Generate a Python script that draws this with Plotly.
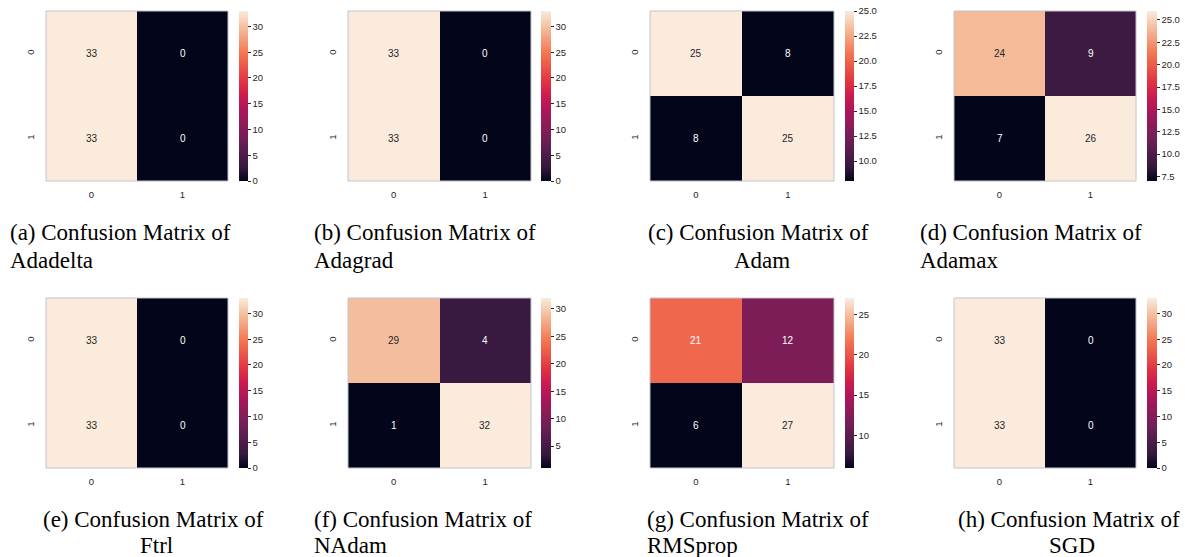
import plotly.graph_objects as go

W, H = 1185, 557

# ---------------- data ----------------
optimizers = ["Adadelta", "Adagrad", "Adam", "Adamax", "Ftrl", "NAdam", "RMSprop", "SGD"]
letters = ["a", "b", "c", "d", "e", "f", "g", "h"]
cm_adadelta = [[33, 0], [33, 0]]
cm_adagrad = [[33, 0], [33, 0]]
cm_adam = [[25, 8], [8, 25]]
cm_adamax = [[24, 9], [7, 26]]
cm_ftrl = [[33, 0], [33, 0]]
cm_nadam = [[29, 4], [1, 32]]
cm_rmsprop = [[21, 12], [6, 27]]
cm_sgd = [[33, 0], [33, 0]]
matrices = [cm_adadelta, cm_adagrad, cm_adam, cm_adamax, cm_ftrl, cm_nadam, cm_rmsprop, cm_sgd]
class_labels = ["0", "1"]
cbar_dtick = [5, 5, 2.5, 2.5, 5, 5, 5, 5]
cbar_format = ["d", "d", ".1f", ".1f", "d", "d", "d", "d"]
caption_centered = [False, False, True, False, True, False, False, True]

# ---------------- layout (pixels) ----------------
# heatmap left/right, colorbar left/right
cols = [
    (46, 228, 239, 248),
    (348, 531, 541, 551),
    (650, 834, 845, 854),
    (954, 1136, 1147, 1157),
]
rows = [(11, 181), (298, 468)]
caption_x = [8.5, 313, 647, 919, 41.5, 313, 646, 957]
caption_w = 230
caption_lines_y = [(233, 260), (519, 545)]

# seaborn "rocket" colormap approximation
rocket = [
    [0.0, "#03051a"],
    [0.083, "#35193e"],
    [0.25, "#701f57"],
    [0.417, "#ad1759"],
    [0.5, "#cb1b4f"],
    [0.583, "#e13342"],
    [0.75, "#f37651"],
    [0.9, "#f4bd9c"],
    [1.0, "#faebdd"],
]


def hex2rgb(h):
    h = h.lstrip("#")
    return [int(h[i:i + 2], 16) for i in (0, 2, 4)]


def cmap(t):
    t = min(max(t, 0.0), 1.0)
    for (t0, c0), (t1, c1) in zip(rocket[:-1], rocket[1:]):
        if t0 <= t <= t1:
            f = 0 if t1 == t0 else (t - t0) / (t1 - t0)
            a, b = hex2rgb(c0), hex2rgb(c1)
            return [a[k] + f * (b[k] - a[k]) for k in range(3)]
    return hex2rgb(rocket[-1][1])


def luminance(rgb):
    out = []
    for c in rgb:
        c = c / 255.0
        out.append(c / 12.92 if c <= 0.03928 else ((c + 0.055) / 1.055) ** 2.4)
    return 0.2126 * out[0] + 0.7152 * out[1] + 0.0722 * out[2]


fig = go.Figure()
layout = dict(
    width=W, height=H,
    margin=dict(l=0, r=0, t=0, b=0),
    paper_bgcolor="white",
    plot_bgcolor="white",
    showlegend=False,
    annotations=[], shapes=[],
)

tickfont = dict(family="Liberation Sans, Arial, sans-serif", size=9.5, color="#262626")
capfont = dict(family="Liberation Serif, Times New Roman, serif", size=23, color="black")

for i, (name, z) in enumerate(zip(optimizers, matrices)):
    r, c = divmod(i, 4)
    hx0, hx1, cx0, cx1 = cols[c]
    ytop, ybot = rows[r]
    n = i + 1
    xa = "x" if n == 1 else f"x{n}"
    ya = "y" if n == 1 else f"y{n}"
    zmin = min(min(row) for row in z)
    zmax = max(max(row) for row in z)
    fig.add_trace(go.Heatmap(
        z=z, x=[0, 1], y=[0, 1],
        xaxis=xa, yaxis=ya,
        zmin=zmin, zmax=zmax,
        colorscale=rocket,
        hoverinfo="skip",
        colorbar=dict(
            x=cx0 / W, xanchor="left", xpad=0,
            y=1 - ytop / H, yanchor="top", ypad=0,
            len=(ybot - ytop) / H, lenmode="fraction",
            thickness=cx1 - cx0, thicknessmode="pixels",
            outlinewidth=0,
            ticks="outside", ticklen=3, tickwidth=1, tickcolor="#262626",
            tickmode="linear", tick0=0, dtick=cbar_dtick[i],
            tickformat=cbar_format[i],
            tickfont=tickfont,
        ),
    ))
    layout[f"xaxis{'' if n == 1 else n}"] = dict(
        domain=[hx0 / W, hx1 / W], anchor=ya,
        range=[-0.5, 1.5], tickvals=[0, 1], ticktext=class_labels,
        showgrid=False, zeroline=False, showline=False, ticks="",
        ticklabelstandoff=6,
        tickfont=tickfont, fixedrange=True,
    )
    layout[f"yaxis{'' if n == 1 else n}"] = dict(
        domain=[1 - ybot / H, 1 - ytop / H], anchor=xa,
        range=[1.5, -0.5], tickvals=[0, 1], ticktext=class_labels,
        showgrid=False, zeroline=False, showline=False, ticks="",
        ticklabelstandoff=9,
        tickangle=-90, tickfont=tickfont, fixedrange=True,
    )
    # faint outer edge (anti-aliased border in the original)
    layout["shapes"].append(dict(
        type="rect", xref=f"{xa} domain", yref=f"{ya} domain",
        x0=0, x1=1, y0=0, y1=1, line=dict(color="#c4c4cc", width=1),
    ))
    # cell annotations
    for yi in range(2):
        for xi in range(2):
            v = z[yi][xi]
            t = (v - zmin) / (zmax - zmin) if zmax > zmin else 0
            col = "#262626" if luminance(cmap(t)) > 0.408 else "#ffffff"
            layout["annotations"].append(dict(
                x=xi, y=yi, xref=xa, yref=ya, text=str(v), showarrow=False,
                font=dict(family="Liberation Sans, Arial, sans-serif", size=10, color=col),
            ))
    # caption (two lines)
    y1, y2 = caption_lines_y[r]
    layout["annotations"].append(dict(
        x=caption_x[i] / W, y=1 - y1 / H, xref="paper", yref="paper",
        xanchor="left", yanchor="middle", showarrow=False,
        text=f"({letters[i]}) Confusion Matrix of", font=capfont, borderpad=0,
    ))
    if caption_centered[i]:
        x2, anchor2 = (caption_x[i] + caption_w / 2) / W, "center"
    else:
        x2, anchor2 = caption_x[i] / W, "left"
    layout["annotations"].append(dict(
        x=x2, y=1 - y2 / H, xref="paper", yref="paper",
        xanchor=anchor2, yanchor="middle", showarrow=False,
        text=name, font=capfont, borderpad=0,
    ))

fig.update_layout(**layout)
fig.write_html(
    "out.html",
    config={"displayModeBar": False},
    post_script="document.body.style.margin='0';document.body.style.padding='0';",
)
